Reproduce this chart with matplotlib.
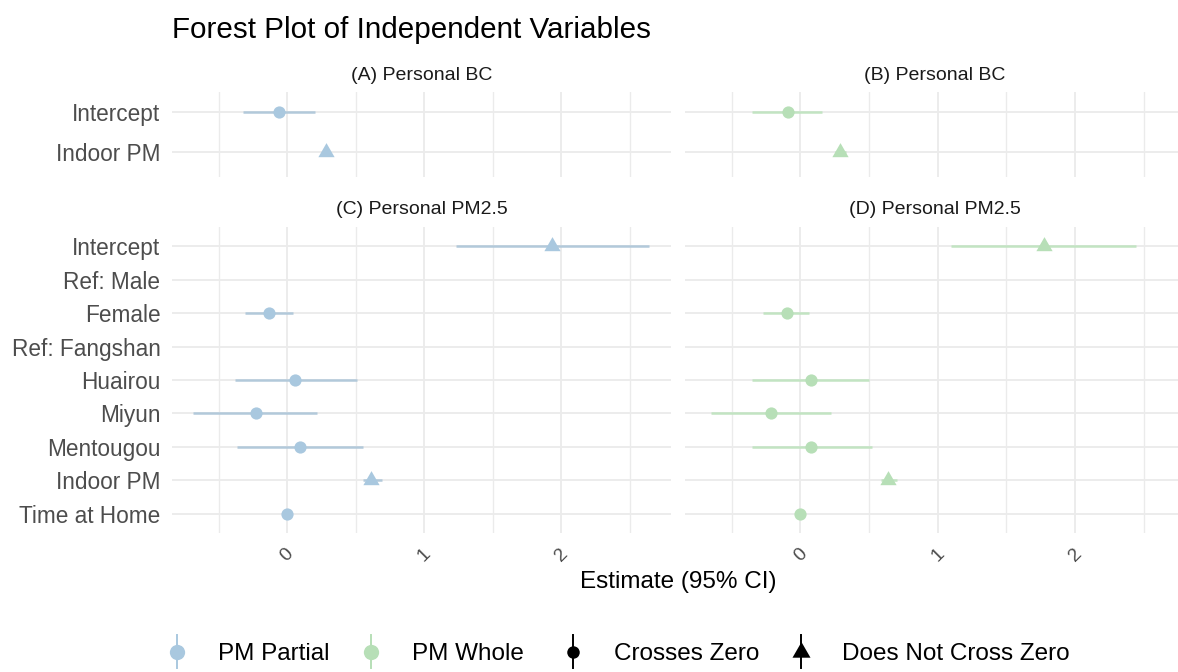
import numpy as np
import matplotlib
matplotlib.use("Agg")
import matplotlib.pyplot as plt
from matplotlib.lines import Line2D
from matplotlib.legend_handler import HandlerBase

plt.rcParams['font.family'] = ['Liberation Sans', 'DejaVu Sans']

# ---- data -------------------------------------------------------------
nan = np.nan

bc_terms = ["Intercept", "Indoor PM"]
pm_terms = ["Intercept", "Ref: Male", "Female", "Ref: Fangshan", "Huairou",
            "Miyun", "Mentougou", "Indoor PM", "Time at Home"]

# (A) Personal BC, PM partial
bc_partial_est = [-0.06, 0.28]
bc_partial_lo = [-0.32, 0.25]
bc_partial_hi = [0.20, 0.31]

# (B) Personal BC, PM whole
bc_whole_est = [-0.09, 0.29]
bc_whole_lo = [-0.35, 0.25]
bc_whole_hi = [0.16, 0.33]

# (C) Personal PM2.5, PM partial
pm_partial_est = [1.93, nan, -0.13, nan, 0.06, -0.23, 0.09, 0.61, 0.00]
pm_partial_lo = [1.23, nan, -0.31, nan, -0.38, -0.69, -0.37, 0.55, -0.01]
pm_partial_hi = [2.64, nan, 0.04, nan, 0.51, 0.22, 0.55, 0.69, 0.01]

# (D) Personal PM2.5, PM whole
pm_whole_est = [1.77, nan, -0.10, nan, 0.08, -0.21, 0.08, 0.64, 0.00]
pm_whole_lo = [1.10, nan, -0.27, nan, -0.35, -0.65, -0.35, 0.59, -0.01]
pm_whole_hi = [2.44, nan, 0.06, nan, 0.50, 0.22, 0.52, 0.70, 0.01]

panel_titles = ["(A) Personal BC", "(B) Personal BC",
                "(C) Personal PM2.5", "(D) Personal PM2.5"]
series_labels = ["PM Partial", "PM Whole"]
shape_labels = ["Crosses Zero", "Does Not Cross Zero"]
x_ticks = [0, 1, 2]
x_minor = [-0.5, 0.5, 1.5, 2.5]

# ---- styling ----------------------------------------------------------
W, H = 1178, 672
PARTIAL_PT, PARTIAL_LN = "#a9c8df", "#b2c9da"
WHOLE_PT, WHOLE_LN = "#b7dfb7", "#c2e4c2"
GRID = "#ebebeb"
TRI = [(-0.5, -0.2887), (0.5, -0.2887), (0.0, 0.5774)]
CIRCLE_MS, TRI_MS = 8.8, 13.5

fig = plt.figure(figsize=(W / 100, H / 100), dpi=100)


def px_axes(x0, x1, ytop, ybot):
    return fig.add_axes([x0 / W, 1 - ybot / H, (x1 - x0) / W, (ybot - ytop) / H])


XL, XR = 172.2, 670.6
XL2, XR2 = 684.9, 1184.8
xlim = (-0.84, 2.798)

axA = px_axes(XL, XR, 91.7, 176.7)
axB = px_axes(XL2, XR2, 91.7, 176.7)
axC = px_axes(XL, XR, 226.7, 533.3)
axD = px_axes(XL2, XR2, 226.7, 533.3)

panels = [
    (axA, bc_terms, bc_partial_est, bc_partial_lo, bc_partial_hi, PARTIAL_PT, PARTIAL_LN, (1.6, -0.5)),
    (axB, bc_terms, bc_whole_est, bc_whole_lo, bc_whole_hi, WHOLE_PT, WHOLE_LN, (1.6, -0.5)),
    (axC, pm_terms, pm_partial_est, pm_partial_lo, pm_partial_hi, PARTIAL_PT, PARTIAL_LN, (8.58, -0.58)),
    (axD, pm_terms, pm_whole_est, pm_whole_lo, pm_whole_hi, WHOLE_PT, WHOLE_LN, (8.58, -0.58)),
]

for i, (ax, terms, est, lo, hi, pc, lc, ylim) in enumerate(panels):
    ypos = np.arange(len(terms))
    est, lo, hi = np.asarray(est), np.asarray(lo), np.asarray(hi)
    ax.set_xlim(*xlim)
    ax.set_ylim(*ylim)
    ax.set_axisbelow(True)
    for s in ax.spines.values():
        s.set_visible(False)
    ax.set_xticks(x_ticks)
    ax.set_xticks(x_minor, minor=True)
    ax.set_yticks(ypos)
    ax.grid(which="major", axis="x", color=GRID, lw=1.3)
    ax.grid(which="minor", axis="x", color=GRID, lw=1.0)
    ax.grid(which="major", axis="y", color=GRID, lw=1.3)
    ax.tick_params(which="both", length=0)

    if i % 2 == 0:
        ax.set_yticklabels(terms, fontsize=16.3, color="#4d4d4d")
        ax.tick_params(axis="y", pad=8.5)
    else:
        ax.set_yticklabels([])
    if i >= 2:
        ax.set_xticklabels([str(t) for t in x_ticks], fontsize=13.8,
                           color="#4d4d4d", rotation=45, ha="center", va="top")
        ax.tick_params(axis="x", pad=8.5)
    else:
        ax.set_xticklabels([])

    ok = ~np.isnan(est)
    ax.hlines(ypos[ok], lo[ok], hi[ok], color=lc, lw=1.8, zorder=3)
    crosses = ok & (lo <= 0) & (hi >= 0)
    notcross = ok & ~((lo <= 0) & (hi >= 0))
    ax.plot(est[crosses], ypos[crosses], "o", color=pc, ms=CIRCLE_MS,
            mec="none", zorder=4)
    ax.plot(est[notcross], ypos[notcross], marker=TRI, linestyle="none",
            color=pc, ms=TRI_MS, mec="none", zorder=4)

# strip titles
strip_x = [(XL + XR) / 2, (XL2 + XR2) / 2, (XL + XR) / 2, (XL2 + XR2) / 2]
for title, xc, yc in zip(panel_titles, strip_x, [75, 75, 209, 209]):
    fig.text(xc / W, 1 - yc / H, title, ha="center", va="center",
             fontsize=14, color="#1a1a1a")

fig.text(172 / W, 1 - 38 / H, "Forest Plot of Independent Variables",
         ha="left", va="baseline", fontsize=21.3, color="black")
fig.text(678.5 / W, 1 - 581.7 / H, "Estimate (95% CI)", ha="center",
         va="center", fontsize=17.5, color="black")


# ---- legends: vertical error-bar keys ---------------------------------
class KeySpec:
    def __init__(self, color, marker, ms):
        self.color, self.marker, self.ms = color, marker, ms


class VKeyHandler(HandlerBase):
    def create_artists(self, legend, orig_handle, xdescent, ydescent,
                       width, height, fontsize, trans):
        cx = width / 2 - xdescent
        cy = height / 2 - ydescent
        half = 12.0
        line = Line2D([cx, cx], [cy - half, cy + half], color=orig_handle.color,
                      lw=1.4, transform=trans)
        pt = Line2D([cx], [cy], marker=orig_handle.marker, ms=orig_handle.ms,
                    color=orig_handle.color, mec="none", linestyle="none",
                    transform=trans)
        return [line, pt]


leg_kw = dict(loc="center left", frameon=False, fontsize=17.5, ncol=2,
              borderpad=0, borderaxespad=0, handlelength=1.0,
              handletextpad=1.2, columnspacing=1.2,
              handler_map={KeySpec: VKeyHandler()})

color_keys = [KeySpec(PARTIAL_PT, "o", 11.0), KeySpec(WHOLE_PT, "o", 11.0)]
shape_keys = [KeySpec("black", "o", 9.0), KeySpec("black", TRI, 15.0)]

leg1 = fig.legend(color_keys, series_labels,
                  bbox_to_anchor=(164.5 / W, 1 - 654 / H), **leg_kw)
leg2 = fig.legend(shape_keys, shape_labels,
                  bbox_to_anchor=(561.0 / W, 1 - 654 / H), **leg_kw)

fig.savefig("out.png", dpi=100)
